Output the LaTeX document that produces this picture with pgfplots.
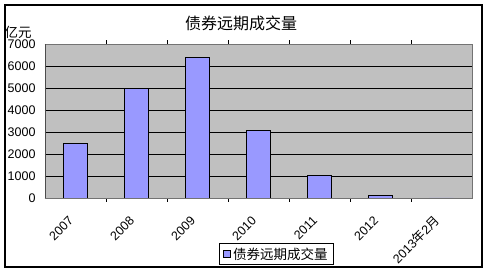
\documentclass[border=0pt]{standalone}
\usepackage{pgfplots}
\pgfplotsset{compat=1.18}
\usepackage{fontspec}
\setmainfont{Liberation Sans}
\newfontfamily\cjk{Noto Sans CJK SC}
\definecolor{barcol}{HTML}{9999FF}
\definecolor{plotbg}{HTML}{C0C0C0}
\begin{document}
\begin{tikzpicture}
\useasboundingbox (0,0) rectangle (488pt,273pt);
\draw[line width=1.2pt] (5pt,6pt) rectangle (482pt,268pt);
\node[font=\cjk\fontsize{16}{18}\selectfont] at (241pt,250pt) {债券远期成交量};
\node[font=\cjk\fontsize{13.5}{15}\selectfont, anchor=west, inner sep=0pt] at (4.5pt,240.5pt) {亿元};
\begin{axis}[
  at={(45pt,75pt)}, anchor=south west,
  scale only axis, width=427pt, height=154pt,
  xmin=-0.5, xmax=6.5, ymin=0, ymax=7000,
  axis background/.style={fill=plotbg},
  axis line style={draw=gray!90!black, line width=0.9pt},
  ytick={0,1000,...,7000},
  ymajorgrids, grid style={black, line width=0.8pt},
  xtick={0,...,6},
  xticklabels={2007,2008,2009,2010,2011,2012,{2013{\cjk 年}2{\cjk 月}}},
  major x tick style={draw=none},
  minor xtick={0.5,1.5,...,5.5},
  minor tick length=4pt,
  minor x tick style={black, line width=0.8pt},
  major tick length=4pt,
  tick align=inside,
  ytick style={black},
  tick label style={font=\fontsize{12.5}{14}\selectfont},
  /pgf/number format/assume math mode=true,
  yticklabel style={anchor=east, xshift=-6pt},
  xticklabel style={xshift=-2pt, yshift=-14pt, rotate=45, anchor=east},
  scaled y ticks=false,
  y tick label style={/pgf/number format/1000 sep={}},
  ybar, bar width=24pt,
  legend style={at={(axis description cs:0.5422,-0.364)}, anchor=center,
    draw=black, line width=0.8pt, font=\cjk\fontsize{13.5}{15}\selectfont,
    inner xsep=4pt, inner ysep=2pt},
  legend image code/.code={\draw[fill=barcol, draw=black, line width=0.8pt] (0pt,-3.5pt) rectangle (7pt,3.5pt);},
]
\addplot[fill=barcol, draw=black, line width=0.9pt] coordinates {(0,2500) (1,5000) (2,6400) (3,3080) (4,1030) (5,120) (6,0)};
\addlegendentry{债券远期成交量}
\draw[black, line width=0.9pt] (rel axis cs:0,0) -- (rel axis cs:1,0);
\draw[black!70, line width=0.9pt] (rel axis cs:0,0) -- (rel axis cs:0,1);
\end{axis}
\end{tikzpicture}
\end{document}
